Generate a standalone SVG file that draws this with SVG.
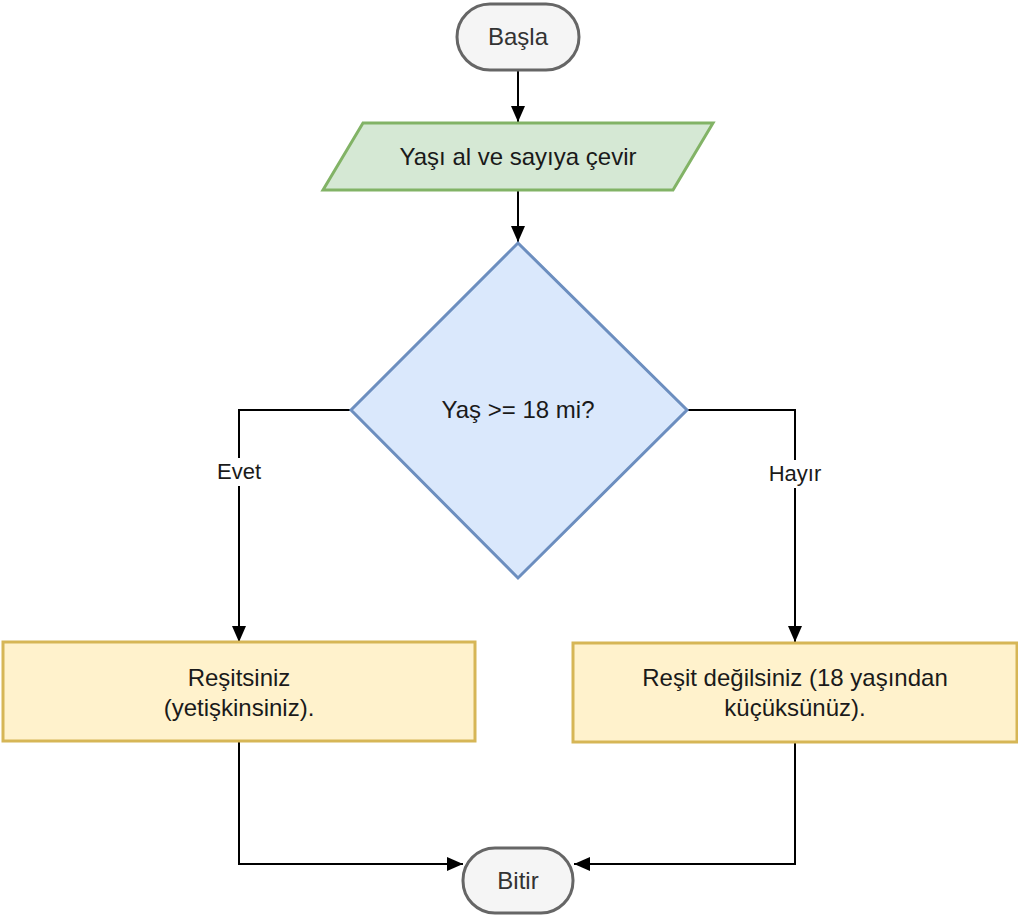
<svg xmlns="http://www.w3.org/2000/svg" width="1018" height="916" viewBox="0 0 1018 916">
  <defs>
    <marker id="arrow" markerUnits="userSpaceOnUse" markerWidth="16" markerHeight="14" refX="16" refY="7" orient="auto">
      <path d="M0,0 L16,7 L0,14 Z" fill="#000"/>
    </marker>
    <style>
      text { font-family: "Liberation Sans", Arial, sans-serif; font-size: 24px; fill: #1a1a1a; text-anchor: middle; }
      .term { fill: #f5f5f5; stroke: #666666; stroke-width: 3; }
      .term-label { fill: #333333; }
      .io { fill: #d5e8d4; stroke: #82b366; stroke-width: 3; }
      .decision { fill: #dae8fc; stroke: #6c8ebf; stroke-width: 3; }
      .proc { fill: #fff2cc; stroke: #d6b656; stroke-width: 3; }
      .edge { fill: none; stroke: #000; stroke-width: 2; marker-end: url(#arrow); }
      .edge-label { font-size: 22px; }
      .label-bg { fill: #ffffff; }
    </style>
  </defs>
  <rect width="1018" height="916" fill="#ffffff"/>

  <g id="connectors">
    <path class="edge" d="M518,70 L518,122"/>
    <path class="edge" d="M518,190 L518,242"/>
    <path class="edge" d="M351,410 L239,410 L239,642"/>
    <path class="edge" d="M687,410 L795,410 L795,642"/>
    <path class="edge" d="M239,741 L239,864 L463,864"/>
    <path class="edge" d="M795,742 L795,864 L574,864"/>
    <rect class="label-bg" x="214" y="458" width="50" height="28"/>
    <text class="edge-label" x="239" y="479">Evet</text>
    <rect class="label-bg" x="766" y="460" width="58" height="28"/>
    <text class="edge-label" x="795" y="481">Hayır</text>
  </g>

  <g id="start">
    <rect class="term" x="457" y="4" width="122" height="66" rx="33" ry="33"/>
    <text class="term-label" x="518" y="45">Başla</text>
  </g>

  <g id="input">
    <polygon class="io" points="363,123 713,123 673,190 323,190"/>
    <text x="518" y="165">Yaşı al ve sayıya çevir</text>
  </g>

  <g id="decision">
    <polygon class="decision" points="518,243 687,410 518,578 351,410"/>
    <text x="518" y="418">Yaş &gt;= 18 mi?</text>
  </g>

  <g id="adult">
    <rect class="proc" x="3" y="642" width="472" height="99"/>
    <text x="239" y="686">Reşitsiniz</text>
    <text x="239" y="716">(yetişkinsiniz).</text>
  </g>

  <g id="minor">
    <rect class="proc" x="573" y="643" width="444" height="99"/>
    <text x="795" y="686">Reşit değilsiniz (18 yaşından</text>
    <text x="795" y="716">küçüksünüz).</text>
  </g>

  <g id="end">
    <rect class="term" x="463" y="848" width="110" height="65" rx="32" ry="32"/>
    <text class="term-label" x="518" y="889">Bitir</text>
  </g>
</svg>
